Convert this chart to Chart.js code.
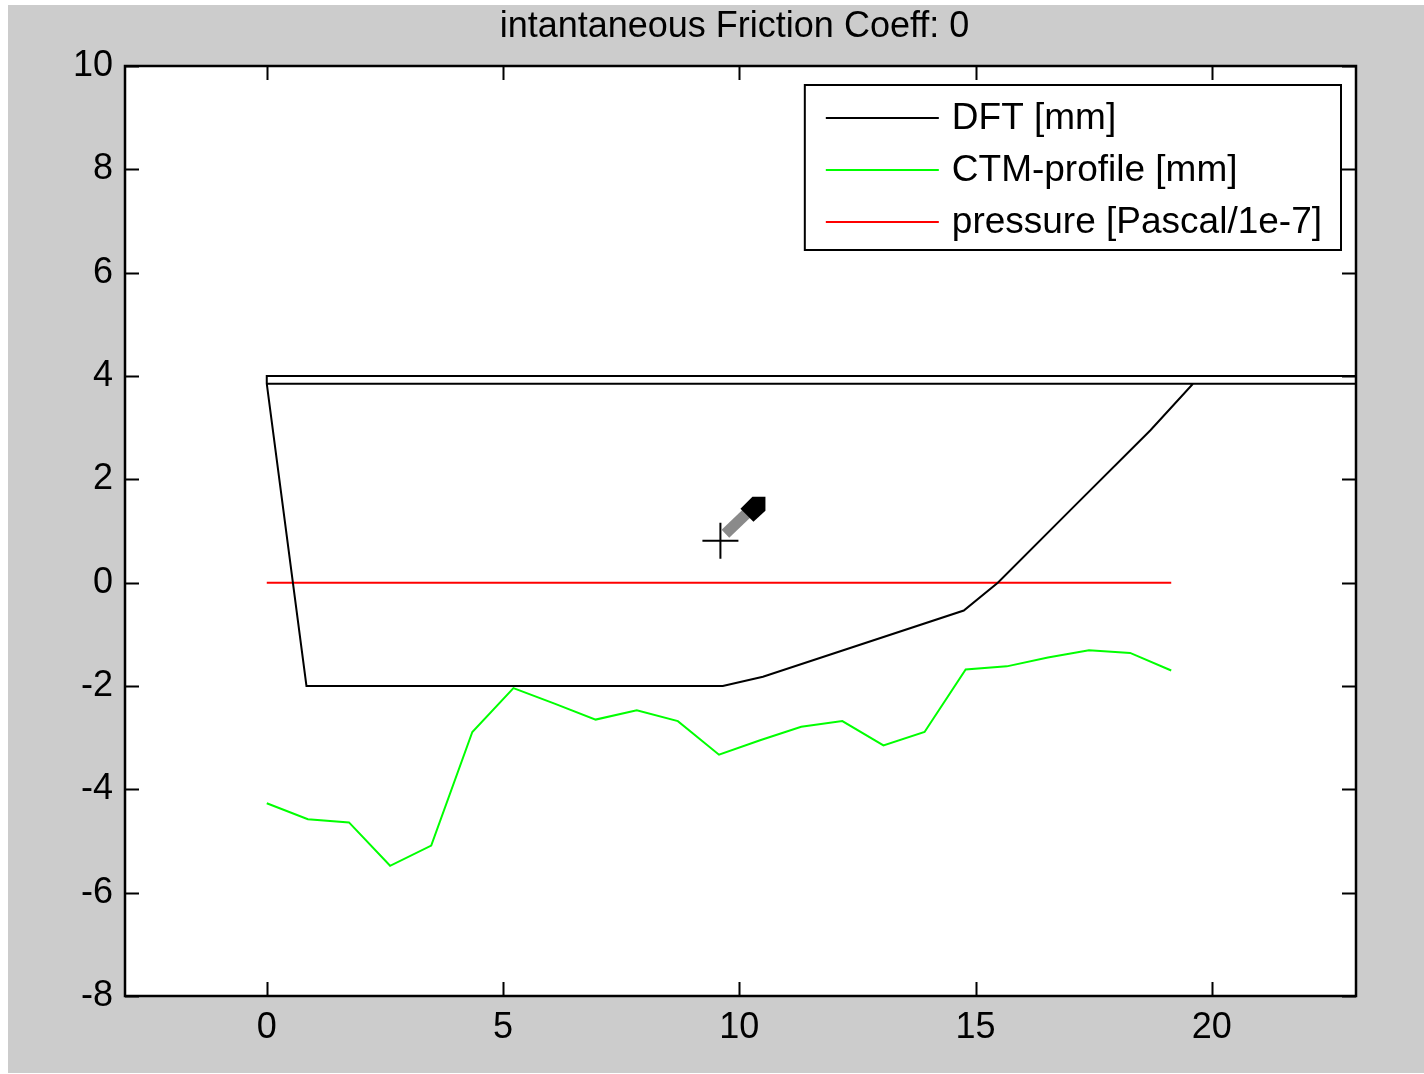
<!DOCTYPE html>
<html>
<head>
<meta charset="utf-8">
<script src="https://cdn.jsdelivr.net/npm/chart.js@4"></script>
<style>
  html, body { margin: 0; padding: 0; background: #fff; }
  #plot { display: block; }
</style>
</head>
<body>
<canvas id="plot" width="1424" height="1074"></canvas>
<script>
const titleText = "intantaneous Friction Coeff: 0";
const seriesNames = ["DFT [mm]", "CTM-profile [mm]", "pressure [Pascal/1e-7]"];
const seriesColors = ["#000000", "#00ff00", "#ff0000"];

// DFT outline (drawn as one polyline, goes back over the 3.85 line at the end)
const dftX = [23.5, 0, 0, 0.84, 9.65, 10.5, 14.75, 15.47, 17.0, 18.7, 19.6, 23.5, 0];
const dftY = [4.0, 4.0, 3.85, -2.0, -2.0, -1.82, -0.54, 0.0, 1.4, 2.95, 3.85, 3.85, 3.85];

const ctmX = [0, 0.87, 1.74, 2.61, 3.48, 4.35, 5.22, 6.09, 6.96, 7.83, 8.70, 9.57,
  10.44, 11.31, 12.18, 13.05, 13.92, 14.79, 15.66, 16.53, 17.40, 18.27, 19.14];
const ctmY = [-4.27, -4.58, -4.64, -5.48, -5.09, -2.89, -2.04, -2.34, -2.65, -2.47, -2.68, -3.33,
  -3.05, -2.79, -2.68, -3.15, -2.89, -1.68, -1.62, -1.45, -1.31, -1.36, -1.70];
const pressureY = [0, 0, 0, 0, 0, 0, 0, 0, 0, 0, 0, 0, 0, 0, 0, 0, 0, 0, 0, 0, 0, 0, 0];

const xTicks = [0, 5, 10, 15, 20];
const yTicks = [-8, -6, -4, -2, 0, 2, 4, 6, 8, 10];
const cursorAt = { x: 9.6, y: 0.81 };

const FONT = "Liberation Sans, Arial, sans-serif";

function pts(xs, ys) {
  return xs.map((x, i) => ({ x: x, y: ys[i] }));
}

const matlabFrame = {
  id: "matlabFrame",
  beforeDraw(chart) {
    const { ctx, chartArea: a } = chart;
    ctx.save();
    ctx.fillStyle = "#ffffff";
    ctx.fillRect(0, 0, chart.width, chart.height);
    ctx.fillStyle = "#cccccc";
    ctx.fillRect(8, 5, chart.width - 8, chart.height - 6);
    ctx.fillStyle = "#ffffff";
    ctx.fillRect(a.left, a.top, a.right - a.left, a.bottom - a.top);
    ctx.restore();
  },
  afterDatasetsDraw(chart) {
    const { ctx, chartArea: a, scales } = chart;
    ctx.save();
    // ticks inside, all four sides
    ctx.strokeStyle = "#000";
    ctx.lineWidth = 2;
    const tl = 14;
    ctx.beginPath();
    xTicks.forEach((v) => {
      const px = Math.round(scales.x.getPixelForValue(v)) + 0.5;
      ctx.moveTo(px, a.bottom); ctx.lineTo(px, a.bottom - tl);
      ctx.moveTo(px, a.top); ctx.lineTo(px, a.top + tl);
    });
    yTicks.forEach((v) => {
      const py = Math.round(scales.y.getPixelForValue(v)) + 0.5;
      ctx.moveTo(a.left, py); ctx.lineTo(a.left + tl, py);
      ctx.moveTo(a.right, py); ctx.lineTo(a.right - tl, py);
    });
    ctx.stroke();
    ctx.lineWidth = 2.5;
    ctx.strokeRect(a.left, a.top, a.right - a.left, a.bottom - a.top);

    // cursor left in the screenshot
    const cx = scales.x.getPixelForValue(cursorAt.x);
    const cy = scales.y.getPixelForValue(cursorAt.y);
    ctx.lineWidth = 2;
    ctx.beginPath();
    ctx.moveTo(cx - 18, cy); ctx.lineTo(cx + 18, cy);
    ctx.moveTo(cx, cy - 18); ctx.lineTo(cx, cy + 18);
    ctx.stroke();
    ctx.lineWidth = 11;
    ctx.strokeStyle = "#8a8a8a";
    ctx.beginPath();
    ctx.moveTo(cx + 5, cy - 7); ctx.lineTo(cx + 28, cy - 29);
    ctx.stroke();
    ctx.fillStyle = "#000";
    ctx.beginPath();
    ctx.moveTo(cx + 20, cy - 32);
    ctx.lineTo(cx + 32, cy - 44);
    ctx.lineTo(cx + 45, cy - 44);
    ctx.lineTo(cx + 45, cy - 30);
    ctx.lineTo(cx + 33, cy - 19);
    ctx.closePath();
    ctx.fill();

    // legend box
    ctx.font = "37px " + FONT;
    const tw = Math.max(...seriesNames.map((s) => ctx.measureText(s).width));
    const bw = 147 + tw + 19;
    const bh = 165;
    const bx = a.right - 15 - bw;
    const by = a.top + 19;
    ctx.fillStyle = "#fff";
    ctx.fillRect(bx, by, bw, bh);
    ctx.strokeStyle = "#000";
    ctx.lineWidth = 2;
    ctx.strokeRect(bx, by, bw, bh);
    ctx.textBaseline = "middle";
    ctx.textAlign = "left";
    seriesNames.forEach((s, i) => {
      const ry = by + 33 + i * 52;
      ctx.strokeStyle = seriesColors[i];
      ctx.lineWidth = 2;
      ctx.beginPath();
      ctx.moveTo(bx + 21, ry); ctx.lineTo(bx + 134, ry);
      ctx.stroke();
      ctx.fillStyle = "#000";
      ctx.fillText(s, bx + 147, ry + 1);
    });

    // title
    ctx.font = "36px " + FONT;
    ctx.textAlign = "center";
    ctx.fillText(titleText, (a.left + a.right) / 2 - 6, 27);
    ctx.restore();
  },
};

new Chart(document.getElementById("plot"), {
  type: "scatter",
  data: {
    datasets: [
      { label: seriesNames[0], data: pts(dftX, dftY), borderColor: seriesColors[0] },
      { label: seriesNames[1], data: pts(ctmX, ctmY), borderColor: seriesColors[1] },
      { label: seriesNames[2], data: pts(ctmX, pressureY), borderColor: seriesColors[2] },
    ].map((d) => Object.assign(d, {
      showLine: true, pointRadius: 0, borderWidth: 2, tension: 0, fill: false,
    })),
  },
  options: {
    responsive: false,
    animation: false,
    devicePixelRatio: 1,
    layout: { padding: { left: 0, top: 66, right: 68, bottom: 0 } },
    plugins: { legend: { display: false }, tooltip: { enabled: false }, title: { display: false } },
    scales: {
      x: {
        type: "linear",
        min: -3,
        max: 23.05,
        grid: { display: false, drawTicks: false },
        border: { display: false },
        ticks: { color: "#000", font: { family: FONT, size: 36 }, padding: 10, maxRotation: 0 },
        afterBuildTicks: (s) => { s.ticks = xTicks.map((v) => ({ value: v })); },
        afterFit: (s) => { s.height = 78; },
      },
      y: {
        type: "linear",
        min: -8,
        max: 10,
        grid: { display: false, drawTicks: false },
        border: { display: false },
        ticks: { color: "#000", font: { family: FONT, size: 36 }, padding: 12 },
        afterBuildTicks: (s) => { s.ticks = yTicks.map((v) => ({ value: v })); },
        afterFit: (s) => { s.width = 125; },
      },
    },
  },
  plugins: [matlabFrame],
});
</script>
</body>
</html>
